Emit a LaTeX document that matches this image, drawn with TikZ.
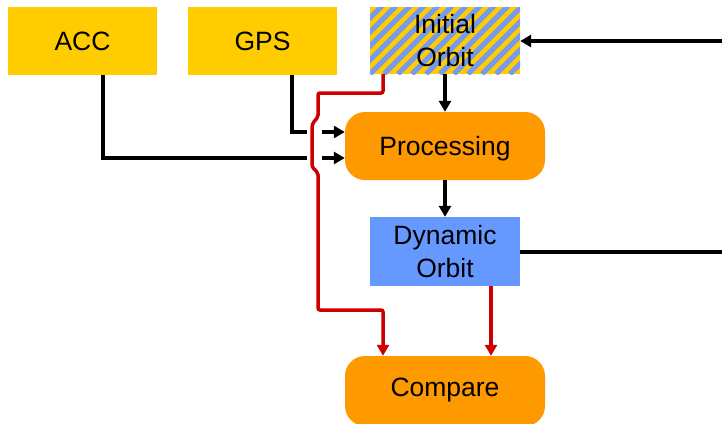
\documentclass[tikz,border=0pt]{standalone}
\usepackage{fontspec}
\setmainfont{Liberation Sans}
\usetikzlibrary{arrows.meta,calc}
\definecolor{cyel}{HTML}{FFCC00}
\definecolor{corg}{HTML}{FF9900}
\definecolor{cblu}{HTML}{6699FF}
\definecolor{cstripe}{HTML}{7799EE}
\definecolor{cred}{HTML}{CC0000}
\begin{document}
\begin{tikzpicture}[x=1pt,y=-1pt,
  every node/.style={font=\fontsize{26.5}{33}\selectfont, align=center, inner sep=0pt},
  ybox/.style={fill=cyel, minimum width=149, minimum height=68},
  obox/.style={fill=corg, rounded corners=20, minimum width=200, minimum height=68},
  bbox/.style={fill=cblu, minimum width=150, minimum height=69},
  hbox/.style={fill=cyel, minimum width=150, minimum height=67,
    path picture={\foreach \i in {-98,-84,...,180}
      \draw[cstripe, line width=5] ($(path picture bounding box.south west)+(\i,0)$) -- ++(90,-90);}},
  blk/.style={line width=4, draw=black},
  redl/.style={line width=3.5, draw=cred, rounded corners=2},
  tip/.style={-{Triangle[length=11,width=12]}}
]
\useasboundingbox (0,0) rectangle (722,423);
\clip (0,0) rectangle (722,423);

\node[ybox] (acc) at (82.5,41) {ACC};
\node[ybox] (gps) at (262.5,41) {GPS};
\node[hbox] (io) at (445,40.5) {Initial\\Orbit};
\node[obox, text depth=0pt] (proc) at (445,146) {Processing};
\node[bbox] (dyn) at (445,251.5) {Dynamic\\Orbit};
\node[obox, minimum height=70, text depth=0pt] (cmp) at (445,391) {};
\node[text depth=0pt] (cmplabel) at (445,387) {Compare};

\coordinate (rin) at (722,41);
\coordinate (rout) at (722,252);

% black connectors
\draw[blk, tip] (rin) -- (io.east |- rin);
\draw[blk] (dyn.east |- rout) -- (rout);
\draw[blk, tip] (io.south) -- (proc.north);
\draw[blk, tip] (proc.south) -- (dyn.north);

\coordinate (g0) at ($(gps.south)+(29,0)$);
\draw[blk] (g0) -- (g0 |- 0,132) -- (307,132);
\draw[blk, tip] (322,132) -- (proc.west |- 0,132);
\coordinate (a0) at ($(acc.south)+(20.5,0)$);
\draw[blk] (a0) -- (a0 |- 0,158) -- (307,158);
\draw[blk, tip] (322,158) -- (proc.west |- 0,158);

% red connectors
\coordinate (r0) at ($(io.south)+(-62,0)$);
\draw[redl, tip] (r0) -- (383,93) -- (318,93) -- (318,117)
  .. controls (312,124) .. (312,134) -- (312,160)
  .. controls (312,167) .. (318,173) -- (318,310) -- (383,310) -- (cmp.north -| 383,0);
\coordinate (d0) at ($(dyn.south)+(46,0)$);
\draw[redl, tip] (d0) -- (cmp.north -| d0);
\end{tikzpicture}
\end{document}
